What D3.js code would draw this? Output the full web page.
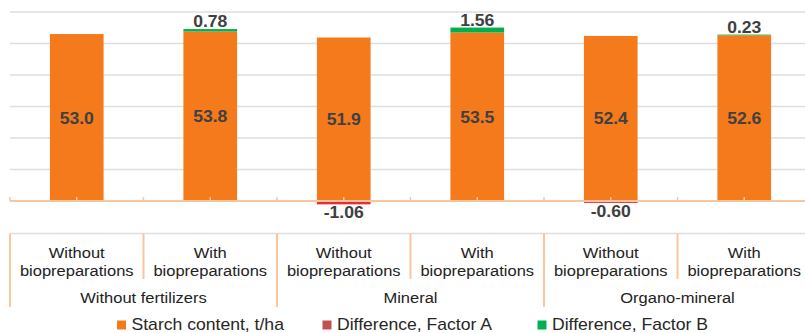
<!DOCTYPE html>
<html>
<head>
<meta charset="utf-8">
<script src="https://cdn.jsdelivr.net/npm/d3@7"></script>
<style>
  html, body { margin: 0; padding: 0; background: #fff; }
  svg { display: block; font-family: "Liberation Sans", Arial, sans-serif; }
</style>
</head>
<body>
<svg id="chart" width="805" height="333"></svg>
<script>
// Starch yield by fertilizer system and biopreparation treatment
const treatments = ["Without\nbiopreparations", "With\nbiopreparations",
                    "Without\nbiopreparations", "With\nbiopreparations",
                    "Without\nbiopreparations", "With\nbiopreparations"];
const fertilizers = ["Without fertilizers", "Mineral", "Organo-mineral"];
const starch = [53.0, 53.8, 51.9, 53.5, 52.4, 52.6];
const diffA = [null, null, -1.06, null, -0.60, null];
const diffB = [null, 0.78, null, 1.56, null, 0.23];
const gridTicks = [10, 20, 30, 40, 50, 60];
const legendNames = ["Starch content, t/ha", "Difference, Factor A", "Difference, Factor B"];

const colStarch = "#f47a1b", colA = "#ee2a2a", colB = "#00b050";
const colLegendA = "#c0504d";
const axisCol = "#f9c6a0", gridCol = "#dedede";
const sx = 1.1; // horizontal text stretch

const svg = d3.select("#chart");
const W = 805;

const x = d3.scaleBand().domain(d3.range(starch.length)).range([10, 811]).paddingInner(0).paddingOuter(0);
const y = d3.scaleLinear().domain([0, 60]).range([201, 12]);
const barW = x.bandwidth() * 0.402;
const cx = i => x(i) + x.bandwidth() / 2;

function txt(g, s, tx, ty, opts) {
  return g.append("text")
    .attr("transform", `translate(${tx},${ty}) scale(${sx},1)`)
    .attr("text-anchor", opts.anchor || "middle")
    .attr("font-size", opts.size)
    .attr("font-weight", opts.weight || "normal")
    .attr("fill", opts.fill)
    .text(s);
}

// gridlines
svg.append("g").selectAll("line").data(gridTicks).join("line")
  .attr("x1", 10).attr("x2", W)
  .attr("y1", d => y(d)).attr("y2", d => y(d))
  .attr("stroke", gridCol).attr("stroke-width", 1.3);

// main bars
svg.append("g").selectAll("rect").data(starch).join("rect")
  .attr("x", (d, i) => cx(i) - barW / 2)
  .attr("width", barW)
  .attr("y", d => y(d))
  .attr("height", d => y(0) - y(d))
  .attr("fill", colStarch);

// Factor B differences stacked on top
svg.append("g").selectAll("rect").data(diffB.map((d, i) => ({ d, i })).filter(o => o.d != null)).join("rect")
  .attr("x", o => cx(o.i) - barW / 2)
  .attr("width", barW)
  .attr("y", o => y(starch[o.i] + o.d))
  .attr("height", o => y(starch[o.i]) - y(starch[o.i] + o.d))
  .attr("fill", colB);

// Factor A differences below the axis
svg.append("g").selectAll("rect").data(diffA.map((d, i) => ({ d, i })).filter(o => o.d != null)).join("rect")
  .attr("x", o => cx(o.i) - barW / 2)
  .attr("width", barW)
  .attr("y", y(0))
  .attr("height", o => y(o.d) - y(0))
  .attr("fill", colA);

// axis line with small ticks
const ax = svg.append("g");
ax.append("line").attr("x1", 10).attr("x2", W).attr("y1", y(0)).attr("y2", y(0))
  .attr("stroke", axisCol).attr("stroke-width", 2);
const tickXs = d3.range(starch.length + 1).map(i => 10 + i * x.bandwidth())
  .concat(d3.range(starch.length).map(cx));
ax.selectAll("line.tk").data(tickXs).join("line").attr("class", "tk")
  .attr("x1", d => d).attr("x2", d => d)
  .attr("y1", y(0) - 4).attr("y2", y(0))
  .attr("stroke", axisCol).attr("stroke-width", 1.5);

// value labels
const lab = svg.append("g");
starch.forEach((v, i) => {
  txt(lab, v.toFixed(1), cx(i), (y(v) + y(0)) / 2 + 6, { size: 16, weight: "bold", fill: "#404040" });
});
diffB.forEach((v, i) => {
  if (v == null) return;
  txt(lab, v.toFixed(2), cx(i), y(starch[i] + v) - 2, { size: 16, weight: "bold", fill: "#404040" });
});
diffA.forEach((v, i) => {
  if (v == null) return;
  txt(lab, v.toFixed(2), cx(i), y(v) + 14, { size: 16, weight: "bold", fill: "#404040" });
});

// category table
const tb = svg.append("g");
const topY = 233.5;
tb.append("line").attr("x1", 10).attr("x2", W).attr("y1", topY).attr("y2", topY)
  .attr("stroke", gridCol).attr("stroke-width", 1.3);
d3.range(starch.length + 1).forEach(i => {
  const xx = 10 + i * x.bandwidth();
  const outer = i % 2 === 0;
  tb.append("line").attr("x1", xx).attr("x2", xx)
    .attr("y1", topY).attr("y2", outer ? 307 : 279)
    .attr("stroke", axisCol).attr("stroke-width", 2);
});
treatments.forEach((t, i) => {
  const lines = t.split("\n");
  txt(tb, lines[0], cx(i), 257.5, { size: 15, fill: "#222" });
  txt(tb, lines[1], cx(i), 275.5, { size: 15, fill: "#222" });
});
fertilizers.forEach((f, g) => {
  const gx = 10 + (g * 2 + 1) * x.bandwidth();
  txt(tb, f, gx, 302.5, { size: 15, fill: "#222" });
});

// legend
const lg = svg.append("g");
const legendX = [117, 322.5, 537.5];
const legendCols = [colStarch, colLegendA, colB];
legendNames.forEach((n, i) => {
  lg.append("rect").attr("x", legendX[i]).attr("y", 320.5).attr("width", 9).attr("height", 9)
    .attr("fill", legendCols[i]);
  txt(lg, n, legendX[i] + 14.5, 329.5, { size: 16, fill: "#262626", anchor: "start" });
});
</script>
</body>
</html>
